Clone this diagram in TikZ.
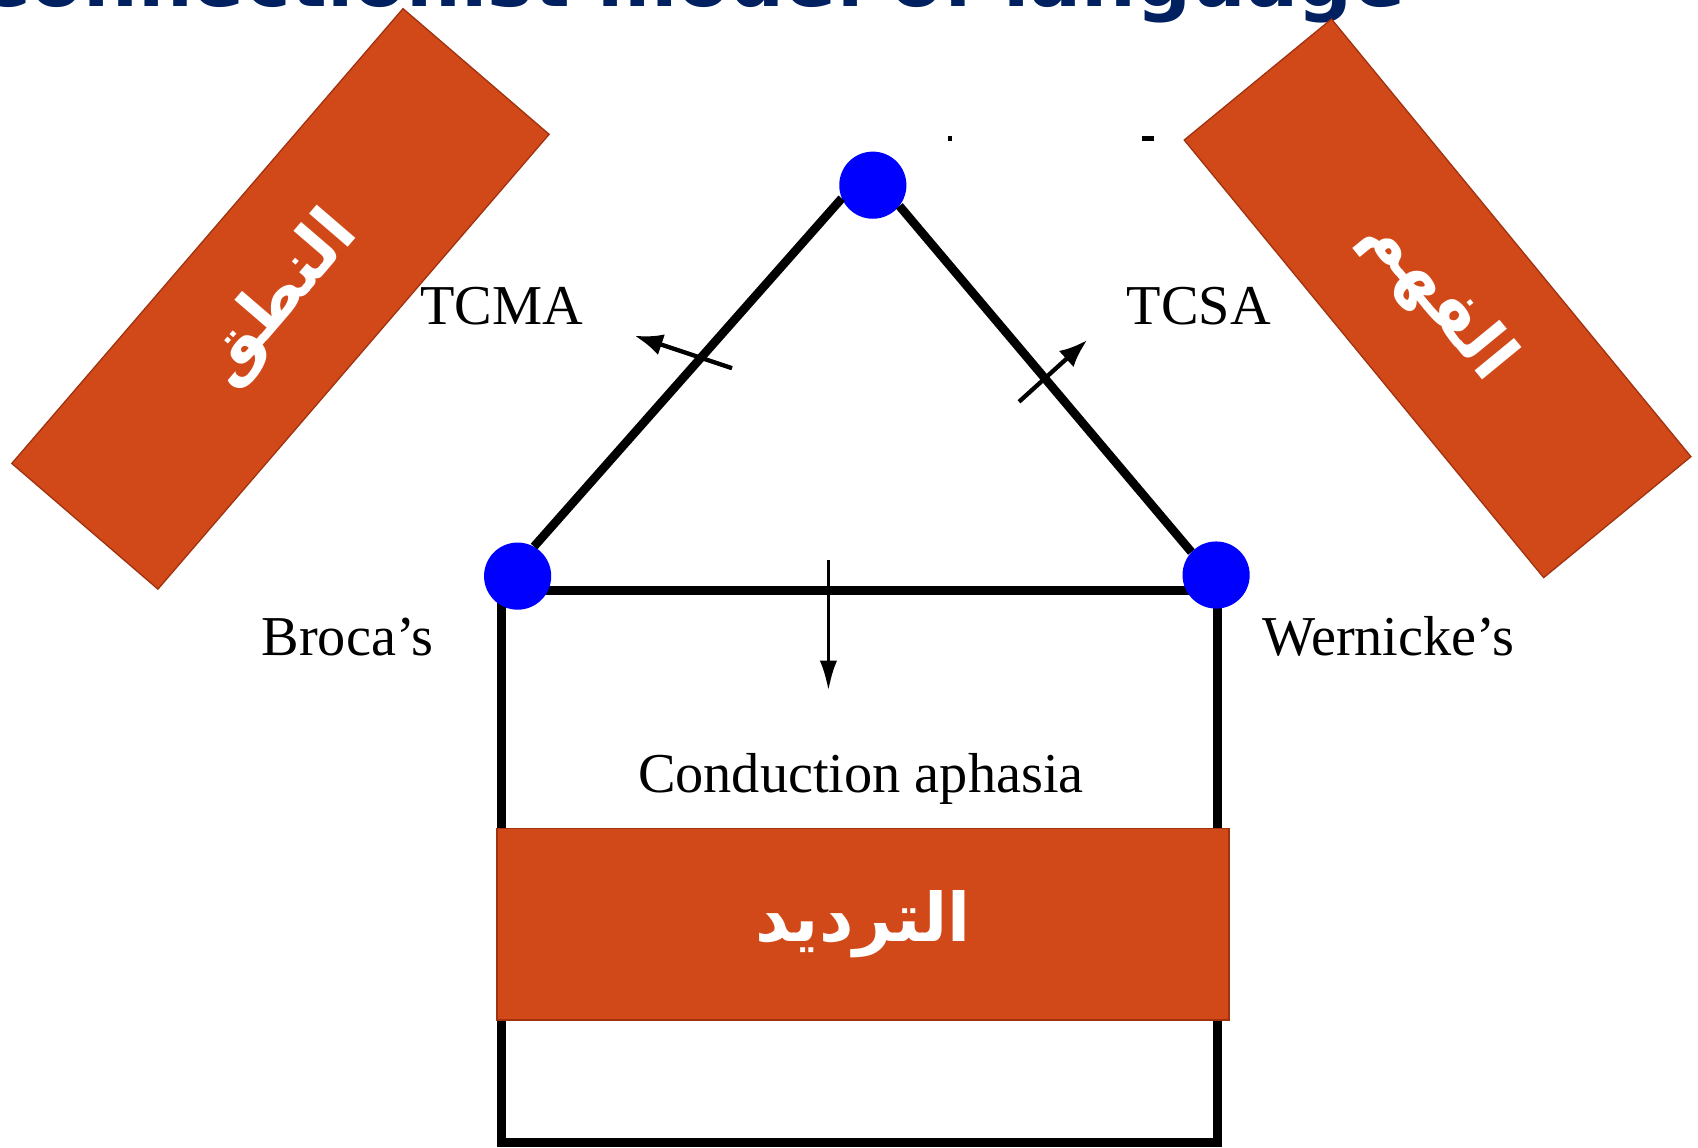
\documentclass[tikz,border=0pt]{standalone}
\usepackage{fontspec}
\setmainfont{Liberation Serif}
\newfontfamily\titlefont{DejaVu Sans}
\newfontfamily\arabicfont[Script=Arabic]{DejaVu Sans}
\TeXXeTstate=1
\usetikzlibrary{shapes,arrows.meta}
\definecolor{rust}{RGB}{209,73,25}
\definecolor{rustline}{RGB}{160,50,15}
\definecolor{navy}{RGB}{0,32,96}

\begin{document}
\begin{tikzpicture}[x=1pt,y=-1pt,
    band/.style={rectangle, draw=rustline, line width=1.2pt, fill=rust, text=white, inner sep=0pt},
    ar/.style={font=\fontsize{62}{70}\selectfont\arabicfont\bfseries},
    dot/.style={circle, fill=blue, minimum size=62pt, inner sep=0pt},
    tag/.style={font=\fontsize{52}{60}\selectfont, inner sep=0pt},
    tract/.style={line width=8pt},
    frame/.style={line width=8.5pt},
    speck/.style={rectangle, fill=black, inner sep=0pt}]
    \useasboundingbox (0,0) rectangle (1568,1060);
    \clip (0,0) rectangle (1568,1060);

    \node (title)[anchor=base west, inner sep=0pt, text=navy, font=\fontsize{71}{80}\selectfont\titlefont\bfseries] at (-24,6) {Connectionist model of language};

    \node (speech)[band, ar, minimum width=554pt, minimum height=178pt, rotate=49.3] at (259,276) {\beginR النطق\endR};
    \node (compr)[band, ar, minimum width=523pt, minimum height=176pt, rotate=-50.6] at (1327.5,275.5) {\beginR الفهم\endR};

    \coordinate (fa) at (463,545);
    \coordinate (fb) at (1124,1055);
    \draw[frame] (fa) rectangle (fb);
    \node (repeat)[band, ar, minimum width=676pt, minimum height=177pt] at (797,853.5) {\beginR الترديد\endR};

    \node (broca)[dot] at (478,532) {};
    \node (wern)[dot] at (1123,531) {};
    \node (top)[dot] at (806,171) {};
    \draw[tract] (broca.61) -- (top.203);
    \draw[tract] (top.322) -- (wern.137);

    \node (dotspeck)[speck, minimum width=4pt, minimum height=4pt] at (877,128) {};
    \node (dashspeck)[speck, minimum width=11pt, minimum height=4pt] at (1060,128) {};

    \node (tcma)[tag] at (463,283) {TCMA};
    \node (tcsa)[tag] at (1107,283) {TCSA};
    \node (brocatag)[tag] at (321,588) {Broca’s};
    \node (werntag)[tag] at (1282,588) {Wernicke’s};
    \node (cond)[tag] at (795,719) {Conduction aphasia};

    \coordinate (ma) at (676,340);
    \coordinate (mb) at (586,310);
    \draw[-{Latex[length=26pt,width=20pt]}, line width=4pt] (ma) -- (mb);
    \coordinate (sa) at (941,371);
    \coordinate (sb) at (1004,314);
    \draw[-{Latex[length=26pt,width=20pt]}, line width=4pt] (sa) -- (sb);
    \coordinate (da) at (765,517);
    \coordinate (db) at (765,638);
    \draw[-{Latex[length=28pt,width=16pt]}, line width=3.5pt] (da) -- (db);
\end{tikzpicture}
\end{document}
